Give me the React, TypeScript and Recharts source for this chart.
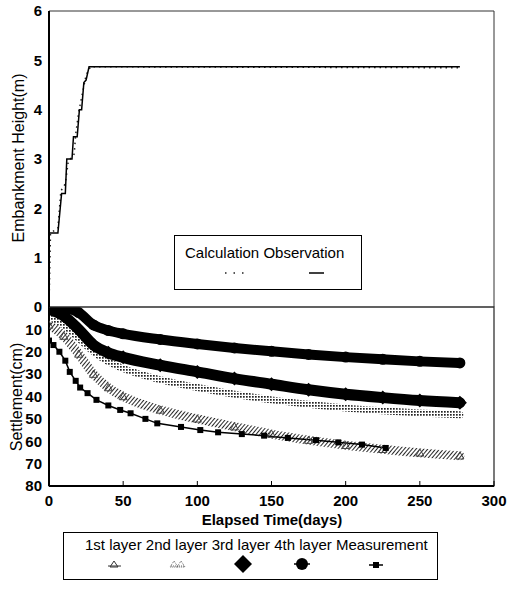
import React from 'react';
import { ComposedChart, Line, XAxis, YAxis, ReferenceArea } from 'recharts';

const FONT = '"Liberation Sans", Arial, sans-serif';

// axes
const xTicks = [0, 50, 100, 150, 200, 250, 300];
const heightTicks = [0, 1, 2, 3, 4, 5, 6];
const settleTicks = [10, 20, 30, 40, 50, 60, 70, 80];

// top panel: embankment height (m)
const obsDays = [0, 0, 6, 8.5, 11, 12, 15.5, 16.5, 19, 20.5, 22, 23.5, 25, 27, 277];
const obsHeight = [0, 1.5, 1.5, 2.3, 2.3, 3.0, 3.0, 3.45, 3.45, 4.0, 4.0, 4.55, 4.6, 4.87, 4.87];
const calcDays = [0, 1, 6, 8, 11, 13, 17, 18, 20, 23, 25, 28, 277];
const calcHeight = [0, 1.5, 1.6, 2.35, 2.5, 2.95, 3.1, 3.5, 3.95, 4.4, 4.7, 4.87, 4.85];

// bottom panel: settlement (cm)
const layerDays = [0, 10, 20, 30, 40, 50, 75, 100, 125, 150, 175, 200, 225, 250, 277];
const layer1 = [8, 13, 21, 30, 36, 40, 46, 50, 53.5, 56.8, 59.5, 61.8, 63.6, 65.2, 66.5];
const layer2 = [4, 8, 14, 20, 24.5, 27.5, 32.5, 36, 39, 41.5, 43.5, 45.2, 46.4, 47.4, 48.2];
const layer3 = [1, 4, 10, 17, 20.5, 22.5, 26, 29, 32, 34.5, 37, 39, 40.5, 41.8, 42.8];
const layer4 = [0, 0.5, 2.5, 8, 10.5, 12, 14.5, 16.5, 18.3, 19.8, 21.2, 22.4, 23.4, 24.3, 25];
const measDays = [0, 3, 7, 11, 14, 18, 21, 26, 32, 40, 48, 55, 65, 73, 89, 102, 114, 130, 145, 161, 180, 195, 211, 227];
const measValues = [15, 17, 20, 24, 29, 33, 36, 38.5, 41.5, 44, 46, 47.5, 50, 52, 53.6, 55, 56, 56.8, 57.5, 58.5, 59.5, 60.5, 61.5, 63];

const topNames = ['Calculation', 'Observation'];
const bottomNames = ['1st layer', '2nd layer', '3rd layer', '4th layer', 'Measurement'];

const zip = (xs: number[], ys: number[]) => xs.map((d, i) => ({ d, v: ys[i] }));

const obsData = zip(obsDays, obsHeight);
const calcData = zip(calcDays, calcHeight);
const l1Data = zip(layerDays, layer1);
const l2Data = zip(layerDays, layer2);
const l3Data = zip(layerDays, layer3);
const l4Data = zip(layerDays, layer4);
const measData = zip(measDays, measValues);

const ok = (p: any) => p && typeof p.cx === 'number' && typeof p.cy === 'number';

const circleDot = (r: number) => (p: any) =>
  ok(p) ? <circle key={`c${p.index}`} cx={p.cx} cy={p.cy} r={r} fill="#000" /> : <g key={`c${p.index}`} />;
const diamondDot = (s: number) => (p: any) =>
  ok(p) ? (
    <path key={`dm${p.index}`} d={`M${p.cx},${p.cy - s}L${p.cx + s},${p.cy}L${p.cx},${p.cy + s}L${p.cx - s},${p.cy}Z`} fill="#000" />
  ) : <g key={`dm${p.index}`} />;
const triDot = (s: number, color: string) => (p: any) =>
  ok(p) ? (
    <path key={`t${p.index}`} d={`M${p.cx},${p.cy - s}L${p.cx + s},${p.cy + s * 0.8}L${p.cx - s},${p.cy + s * 0.8}Z`} fill="none" stroke={color} strokeWidth={1} />
  ) : <g key={`t${p.index}`} />;
const squareDot = (s: number) => (p: any) =>
  ok(p) ? <rect key={`s${p.index}`} x={p.cx - s / 2} y={p.cy - s / 2} width={s} height={s} fill="#000" /> : <g key={`s${p.index}`} />;

const renderXTick = (margin: number, label: boolean) => (p: any) => {
  const axisY = p.y - margin;
  return (
    <g key={`xt${p.index}`}>
      <line x1={p.x} x2={p.x} y1={axisY} y2={axisY - 5} stroke="#000" strokeWidth={1} />
      {label && (
        <text x={p.x} y={axisY + margin} dy="0.71em" textAnchor="middle" fontSize={15} fontWeight={700} fill="#000" fontFamily={FONT}>
          {p.payload.value}
        </text>
      )}
    </g>
  );
};

const yTick = { fill: '#000', fontSize: 15, fontWeight: 700, fontFamily: FONT };

export default function App() {
  return (
    <div style={{ position: 'absolute', left: 0, top: 0, width: 508, height: 589, background: '#fff', fontFamily: FONT, overflow: 'hidden' }}>
      {/* bottom panel */}
      <div style={{ position: 'absolute', left: 0, top: 300 }}>
        <ComposedChart width={508} height={289} margin={{ top: 7, right: 14, left: 19, bottom: 73 }}>
          <defs>
            <pattern id="hatch1" width="3" height="3" patternUnits="userSpaceOnUse" patternTransform="rotate(40)">
              <rect width="3" height="3" fill="#fff" />
              <line x1="0" y1="0" x2="0" y2="3" stroke="#000" strokeWidth="1.7" />
            </pattern>
            <pattern id="dots2" width="3" height="3" patternUnits="userSpaceOnUse">
              <rect width="3" height="3" fill="#fff" />
              <rect width="1.7" height="1.7" fill="#222" />
            </pattern>
          </defs>
          <XAxis dataKey="d" type="number" domain={[0, 300]} ticks={xTicks} interval={0} height={30}
            tickSize={0} tickMargin={9} tickLine={false} tick={renderXTick(9, true)}
            axisLine={{ stroke: '#000', strokeWidth: 2 }} allowDataOverflow />
          <YAxis type="number" domain={[0, 80]} reversed ticks={settleTicks} interval={0} width={30}
            tickSize={0} tickMargin={7} tickLine={false} tick={yTick}
            axisLine={{ stroke: '#000', strokeWidth: 2 }} allowDataOverflow />
          <ReferenceArea x1={0} x2={300} y1={0} y2={80} fill="none" stroke="#222" strokeWidth={1.2} ifOverflow="visible" />
          <Line data={l1Data} dataKey="v" name={bottomNames[0]} type="monotone" stroke="url(#hatch1)" strokeWidth={9}
            strokeLinecap="round" dot={triDot(4, '#444')} isAnimationActive={false} />
          <Line data={l2Data} dataKey="v" name={bottomNames[1]} type="monotone" stroke="url(#dots2)" strokeWidth={7}
            strokeLinecap="round" dot={false} isAnimationActive={false} />
          <Line data={l3Data} dataKey="v" name={bottomNames[2]} type="monotone" stroke="#000" strokeWidth={11}
            strokeLinecap="round" dot={diamondDot(7)} isAnimationActive={false} />
          <Line data={l4Data} dataKey="v" name={bottomNames[3]} type="monotone" stroke="#000" strokeWidth={10}
            strokeLinecap="round" dot={circleDot(5.5)} isAnimationActive={false} />
          <Line data={measData} dataKey="v" name={bottomNames[4]} type="linear" stroke="#000" strokeWidth={1.5}
            dot={squareDot(6)} isAnimationActive={false} />
        </ComposedChart>
      </div>

      {/* top panel */}
      <div style={{ position: 'absolute', left: 0, top: 0 }}>
        <ComposedChart width={508} height={322} margin={{ top: 11, right: 14, left: 19, bottom: 15 }}>
          <XAxis dataKey="d" type="number" domain={[0, 300]} ticks={xTicks} interval={0} height={0}
            tickSize={0} tickMargin={0} tickLine={false} tick={renderXTick(0, false)}
            axisLine={{ stroke: '#000', strokeWidth: 2 }} allowDataOverflow />
          <YAxis type="number" domain={[0, 6]} ticks={heightTicks} interval={0} width={30}
            tickSize={0} tickMargin={7} tickLine={false} tick={yTick}
            axisLine={{ stroke: '#000', strokeWidth: 2 }} allowDataOverflow />
          <ReferenceArea x1={0} x2={300} y1={0} y2={6} fill="none" stroke="#333" strokeWidth={1} ifOverflow="visible" />
          <Line data={calcData} dataKey="v" name={topNames[0]} type="linear" stroke="#222" strokeWidth={1.5}
            strokeDasharray="1.5 4" dot={false} isAnimationActive={false} />
          <Line data={obsData} dataKey="v" name={topNames[1]} type="linear" stroke="#000" strokeWidth={1.5}
            dot={false} isAnimationActive={false} />
        </ComposedChart>
      </div>

      {/* axis titles */}
      <div style={{ position: 'absolute', left: 19, top: 158, transform: 'translate(-50%,-50%) rotate(-90deg)', whiteSpace: 'nowrap', fontSize: 16, color: '#000' }}>
        Embankment Height(m)
      </div>
      <div style={{ position: 'absolute', left: 17, top: 397, transform: 'translate(-50%,-50%) rotate(-90deg)', whiteSpace: 'nowrap', fontSize: 16, color: '#000' }}>
        Settlement(cm)
      </div>
      <div style={{ position: 'absolute', left: 272, top: 519, transform: 'translate(-50%,-50%)', whiteSpace: 'nowrap', fontSize: 15, fontWeight: 700, color: '#000' }}>
        Elapsed Time(days)
      </div>

      {/* top legend */}
      <div style={{ position: 'absolute', left: 174, top: 235, width: 188, height: 55, boxSizing: 'border-box', border: '1.5px solid #000', background: '#fff' }}>
        <div style={{ position: 'absolute', left: 10, top: 8, fontSize: 15, whiteSpace: 'nowrap', color: '#000' }}>
          {topNames.join(' ')}
        </div>
        <svg style={{ position: 'absolute', left: 0, top: 0 }} width={188} height={55}>
          <line x1={50} x2={72} y1={37} y2={37} stroke="#222" strokeWidth={1.5} strokeDasharray="1.5 7" />
          <line x1={134} x2={149} y1={37} y2={37} stroke="#000" strokeWidth={1.5} />
        </svg>
      </div>

      {/* bottom legend */}
      <div style={{ position: 'absolute', left: 63, top: 532, width: 375, height: 48, boxSizing: 'border-box', border: '1.5px solid #000', background: '#fff' }}>
        <div style={{ position: 'absolute', left: 21, top: 3, fontSize: 15, whiteSpace: 'nowrap', color: '#000' }}>
          {bottomNames.join(' ')}
        </div>
        <svg style={{ position: 'absolute', left: 0, top: 0 }} width={375} height={48}>
          <g>
            <line x1={44} x2={57} y1={33} y2={33} stroke="#333" strokeWidth={1} />
            <path d="M50,28L54,34L46,34Z" fill="none" stroke="#333" strokeWidth={1} />
          </g>
          <g>
            <line x1={107} x2={120} y1={33} y2={33} stroke="#666" strokeWidth={1} strokeDasharray="1 1" />
            <path d="M110,28L114,34L106,34Z" fill="none" stroke="#666" strokeWidth={1} strokeDasharray="1 1" />
            <path d="M117,28L121,34L113,34Z" fill="none" stroke="#666" strokeWidth={1} strokeDasharray="1 1" />
          </g>
          <path d="M179,22L188,31L179,40L170,31Z" fill="#000" />
          <g>
            <line x1={230} x2={246} y1={31} y2={31} stroke="#000" strokeWidth={1.5} />
            <circle cx={238} cy={31} r={6} fill="#000" />
          </g>
          <g>
            <line x1={305} x2={319} y1={32} y2={32} stroke="#000" strokeWidth={1.5} />
            <rect x={309} y={29} width={6} height={6} fill="#000" />
          </g>
        </svg>
      </div>
    </div>
  );
}
